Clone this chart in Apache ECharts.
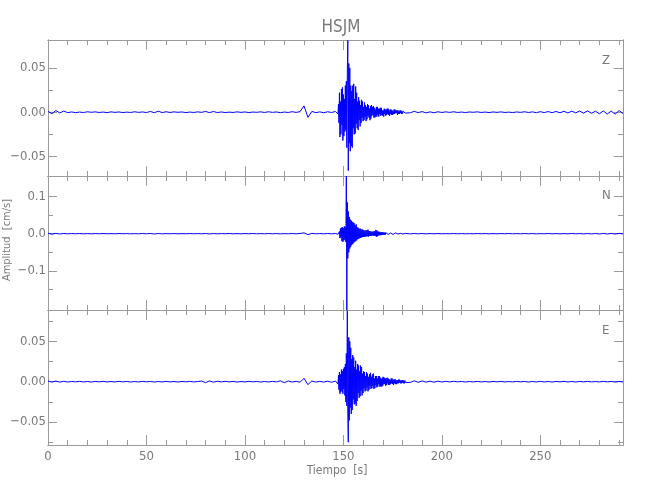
<!DOCTYPE html>
<html>
<head>
<meta charset="utf-8">
<script src="https://cdn.jsdelivr.net/npm/echarts@6/dist/echarts.min.js"></script>
<style>html,body{margin:0;padding:0;background:#fff}#c{width:650px;height:500px}</style>
</head>
<body>
<div id="c"></div>
<script>
// ---------------- data (cm/s) ----------------
const stationName = 'HSJM';
const channels = ['Z', 'N', 'E'];
const xTickLabels = [0, 50, 100, 150, 200, 250];
const xMinorTicks = [10,20,30,40,60,70,80,90,110,120,130,140,160,170,180,190,210,220,230,240,260,270,280,290];
const timeMax = 292;
// sample times: pre-event every 2 s from 0, event every 0.25 s from 146, coda every 2 s from 182
const preStart = 0, preStep = 2, burstStart = 146, burstStep = 0.25, postStart = 182, postStep = 2;

// Z channel
const zPre = [.0009,-.0016,.0019,-.0008,.0013,-.0005,
 .0003,-.0005,.0002,-.0004,.0005,-.0001,.0004,-.0003,.0002,-.0005,.0004,-.0002,.0003,-.0004,.0001,-.0003,.0005,-.0002,.0003,-.0004,
 .0009,-.0006,.0011,-.0004,.0005,
 -.0003,.0004,-.0001,.0003,-.0004,.0002,-.0003,.0004,-.0002,
 .0009,-.0005,.0008,-.0004,
 .0003,-.0004,.0001,-.0003,.0004,-.0002,.0003,-.0004,.0002,-.0001,.0004,-.0003,.0005,-.0002,.0003,-.0005,.0002,-.0003,.0006,-.0002,
 .0006,.0072,-.0058,.0009,-.0005,.0004,-.0006,.0005,-.0003];
const zBurst = [
 .0008,-.001,.0012,-.0009, .0015,-.002,.009,-.012, .022,-.028,.012,-.025, .026,-.014,.028,-.032,
 .02,-.027,.015,-.022, .03,-.02,.035,-.04, .045,.081,-.066,.055, -.035,.05,-.044,.03,
 -.038,.024,-.04,.03, -.018,.032,-.025,.015, -.024,.029,-.013,.022, -.018,.012,-.02,.017,
 -.009,.013,-.016,.008, -.012,.014,-.006,.012, -.01,.006,-.009,.011, -.005,.008,-.01,.006,
 -.008,.009,-.004,.008, -.006,.004,-.009,.007, -.007,.008,-.004,.006, -.003,.007,-.006,.005,
 -.006,.003,-.005,.006, -.005,.006,-.003,.004, -.005,.004,-.002,.005, -.004,.005,-.003,.002,
 -.004,.002,-.005,.004, -.002,.003,-.004,.003, -.003,.004,-.002,.004, -.003,.002,-.004,.003,
 -.002,.003,-.003,.002, -.003,.001,-.002,.003, -.002,.003,-.001,.002, -.001,.002,-.003,.002,
 -.002,.001,-.002,.002, -.001,.002,-.002,.001, -.002,.001,-.001,.001, -.001,.002,-.001,.001];
const zPost = [.0009,-.0006,.001,-.0005,.0007,-.0008,.0004,-.0006,.0005,-.0003,
 .0004,-.0002,.0005,-.0003,.0002,-.0004,.0003,-.0001,.0004,-.0003,.0002,-.0004,.0003,-.0002,.0004,-.0003,.0001,-.0004,.0003,-.0002,.0005,-.0003,.0004,-.0005,.0006,-.0004,.0007,-.0005,.0008,
 -.0006,.001,-.0008,.0012,-.0007,.0013,-.001,.0015,-.0012,.0011,-.0017,.0014,-.002,.0012,-.0022,.0019,-.0015];

// N channel
const nPre = [.0012,-.0015,.0009,-.0008,.0006,-.0004,
 .0003,-.0002,.0004,-.0003,.0002,-.0004,.0003,-.0002,.0004,-.0003,.0002,-.0003,.0004,-.0002,.0003,-.0004,.0002,-.0003,.0004,-.0002,
 .0006,-.0007,.0005,-.0004,.0003,
 -.0002,.0003,-.0004,.0002,-.0003,.0004,-.0002,.0003,-.0004,
 .0006,-.0007,.0005,-.0004,
 .0003,-.0002,.0004,-.0003,.0002,-.0004,.0003,-.0002,.0004,-.0003,.0002,-.0003,.0004,-.0002,.0003,-.0004,.0002,-.0003,.0004,-.0003,
 .0007,.0022,-.0025,.0007,-.0004,.0003,-.0004,.0005,-.0004];
const nBurst = [
 .0005,-.0006,.0008,-.0007, .001,-.0015,.002,-.003, .006,-.012,.014,-.01, .016,-.02,.018,-.022,
 .015,-.018,.02,-.016, .018,-.022,.155,-.205, .084,-.066,.06,-.05, .045,-.04,.038,-.035,
 .035,-.03,.032,-.028, .03,-.025,.028,-.022, .022,-.02,.025,-.018, .018,-.015,.016,-.014,
 .013,-.012,.014,-.011, .011,-.01,.012,-.009, .01,-.009,.009,-.008, .008,-.008,.009,-.007,
 .009,-.007,.011,-.008, .007,-.006,.007,-.006, .006,-.006,.005,-.005, .006,-.005,.006,-.005,
 .007,-.006,.01,-.008, .009,-.007,.006,-.005, .005,-.004,.005,-.004, .004,-.004,.004,-.003,
 .004,-.003,.003,-.003, .003,-.003,.003,-.002, .003,-.002,.003,-.002, .002,-.002,.003,-.002,
 .002,-.002,.002,-.002, .002,-.002,.002,-.001, .002,-.001,.002,-.001, .0015,-.0015,.0015,-.001,
 .0015,-.001,.0012,-.001, .001,-.001,.0012,-.001, .001,-.0008,.001,-.0008, .0008,-.0008,.0008,-.0006];
const nPost = [.0006,-.0005,.0005,-.0004,.0004,-.0004,.0003,-.0003,.0004,-.0003,
 .0002,-.0003,.0004,-.0002,.0003,-.0004,.0002,-.0003,.0004,-.0002,.0003,-.0004,.0002,-.0003,.0003,-.0002,.0004,-.0003,.0002,-.0003,.0004,-.0002,.0003,-.0004,.0002,-.0003,.0004,-.0003,.0003,
 -.0004,.0003,-.0004,.0005,-.0004,.0003,-.0005,.0004,-.0006,.0005,-.0007,.0006,-.0008,.0007,-.0008,.0006,-.0005];

// E channel
const ePre = [.0009,-.0005,.0008,-.0006,.0005,-.0004,
 .0003,-.0002,.0004,-.0003,.0002,-.0004,.0003,-.0002,.0004,-.0003,.0002,-.0003,.0004,-.0002,.0003,-.0004,.0002,-.0003,.0004,-.0002,.0003,-.0004,.0002,-.0003,.0004,-.0003,.0002,-.0004,.0003,-.0002,.0004,-.0003,.0002,
 .0008,-.0011,.0009,-.0006,.0005,
 -.0003,.0004,-.0002,.0003,-.0004,.0002,-.0003,.0004,-.0002,.0003,-.0004,.0002,-.0003,.0004,-.0003,
 .0011,-.0013,.0009,-.0005,
 .0005,-.0007,.0042,-.0036,.0009,-.0005,.0004,-.0005,.0006,-.0007];
const eBurst = [
 .0008,-.001,.0009,-.0012, .002,-.003,.008,-.01, .012,-.015,.009,-.013, .015,-.011,.013,-.015,
 .016,-.009,.018,-.017, .022,-.025,.035,-.03, .088,-.04,-.075,.055, -.048,.05,-.032,.042,
 -.04,.028,-.035,.033, -.022,.03,-.028,.018, -.027,.026,-.03,.015, -.024,.022,-.014,.02,
 -.02,.013,-.018,.02, -.011,.018,-.017,.01, -.014,.013,-.008,.012, -.012,.007,-.011,.012,
 -.007,.01,-.012,.006, -.01,.009,-.005,.011, -.009,.006,-.008,.009, -.005,.01,-.009,.004,
 -.008,.007,-.004,.007, -.007,.004,-.006,.007, -.003,.007,-.006,.005, -.006,.003,-.006,.005,
 -.005,.006,-.003,.005, -.003,.004,-.005,.004, -.004,.005,-.002,.004, -.004,.003,-.004,.002,
 -.003,.004,-.002,.004, -.003,.002,-.004,.003, -.002,.003,-.003,.002, -.003,.002,-.002,.002,
 -.002,.003,-.001,.002, -.002,.001,-.002,.002, -.001,.002,-.002,.001, -.002,.0015,-.001,.0012];
const ePost = [.0012,-.0009,.0011,-.0008,.0009,-.0006,.0007,-.0007,.0006,-.0004,
 .0004,-.0003,.0005,-.0002,.0003,-.0004,.0002,-.0003,.0004,-.0003,.0002,-.0004,.0003,-.0002,.0004,-.0003,.0002,-.0003,.0004,-.0002,.0003,-.0004,.0002,-.0003,.0004,-.0003,.0002,-.0004,.0003,
 -.0002,.0004,-.0003,.0002,-.0004,.0003,-.0002,.0004,-.0003,.0002,-.0003,.0004,-.0002,.0003,-.0004,.0002,-.0003];

// axis ranges and ticks for each panel
const yMin = [-0.072, -0.205, -0.0785];
const yMax = [0.0815, 0.155, 0.0889];
const yMajorTicks = [[-0.05, 0, 0.05], [-0.1, 0, 0.1], [-0.05, 0, 0.05]];
const yMinorTicks = [[-0.025, 0.025], [-0.15, -0.05, 0.05], [-0.075, -0.025, 0.025, 0.075]];
const yDecimals = [2, 1, 2];

// ---------------- build ----------------
function buildSeries(pre, burst, post) {
  const out = [];
  pre.forEach((v, i) => out.push([preStart + i * preStep, v]));
  burst.forEach((v, i) => out.push([burstStart + i * burstStep, v]));
  post.forEach((v, i) => out.push([postStart + i * postStep, v]));
  return out;
}
const traces = [buildSeries(zPre, zBurst, zPost), buildSeries(nPre, nBurst, nPost), buildSeries(ePre, eBurst, ePost)];

const AX = '#9a9a9a';
const TXT = '#7a7a7a';
const FONT = "'Liberation Sans Narrow', 'DejaVu Sans Condensed', sans-serif";
const tops = [40, 176, 310];
const heights = [136, 134, 135];

const grids = [], xAxes = [], yAxes = [], series = [];
for (let g = 0; g < 3; g++) {
  grids.push({ left: 48, width: 575, top: tops[g], height: heights[g], containLabel: false });
  const xs = [
    { pos: 'bottom', ticks: xTickLabels, len: 10, label: g === 2 },
    { pos: 'bottom', ticks: xMinorTicks, len: 5, label: false },
    { pos: 'top', ticks: xTickLabels, len: 10, label: false },
    { pos: 'top', ticks: xMinorTicks, len: 5, label: false }
  ];
  xs.forEach(a => xAxes.push({
    type: 'value', gridIndex: g, position: a.pos, min: 0, max: timeMax,
    axisLine: { show: true, onZero: false, lineStyle: { color: AX, width: 1 } },
    axisTick: { show: true, inside: true, length: a.len, customValues: a.ticks, lineStyle: { color: AX } },
    axisLabel: { show: a.label, customValues: a.ticks, color: TXT, fontFamily: FONT, fontSize: 13, margin: 5 },
    splitLine: { show: false }
  }));
  const ys = [
    { pos: 'left', ticks: yMajorTicks[g], len: 9, label: true },
    { pos: 'left', ticks: yMinorTicks[g], len: 5, label: false },
    { pos: 'right', ticks: yMajorTicks[g], len: 9, label: false },
    { pos: 'right', ticks: yMinorTicks[g], len: 5, label: false }
  ];
  ys.forEach(a => yAxes.push({
    type: 'value', gridIndex: g, position: a.pos, min: yMin[g], max: yMax[g],
    axisLine: { show: true, onZero: false, lineStyle: { color: AX, width: 1 } },
    axisTick: { show: true, inside: true, length: a.len, customValues: a.ticks, lineStyle: { color: AX } },
    axisLabel: { show: a.label, customValues: a.ticks, color: TXT, fontFamily: FONT, fontSize: 13, margin: 2,
      formatter: v => v.toFixed(yDecimals[g]).replace('-', '\u2212') },
    splitLine: { show: false }
  }));
  series.push({
    type: 'line', name: channels[g], xAxisIndex: 4 * g, yAxisIndex: 4 * g,
    data: traces[g], showSymbol: false, symbol: 'none', sampling: null,
    lineStyle: { color: '#0000ff', width: 1 }, silent: true, animation: false, clip: true
  });
}

const chart = echarts.init(document.getElementById('c'), null, { renderer: 'canvas' });
chart.setOption({
  animation: false,
  backgroundColor: '#ffffff',
  title: { text: stationName, left: 336, top: 14, textAlign: 'center',
    textStyle: { color: TXT, fontFamily: FONT, fontWeight: 'normal', fontSize: 17 } },
  grid: grids, xAxis: xAxes, yAxis: yAxes, series: series,
  graphic: [
    { type: 'text', left: 602, top: 54, style: { text: channels[0], fill: TXT, font: "13px " + FONT } },
    { type: 'text', left: 602, top: 189, style: { text: channels[1], fill: TXT, font: "13px " + FONT } },
    { type: 'text', left: 602, top: 324, style: { text: channels[2], fill: TXT, font: "13px " + FONT } },
    { type: 'text', x: 337, y: 471, style: { text: 'Tiempo  [s]', fill: TXT, font: "12px " + FONT, align: 'center', verticalAlign: 'middle' } },
    { type: 'text', x: 7, y: 240, rotation: Math.PI / 2, style: { text: 'Amplitud  [cm/s]', fill: TXT, font: "11px " + FONT, align: 'center', verticalAlign: 'middle' } }
  ]
});
</script>
</body>
</html>
